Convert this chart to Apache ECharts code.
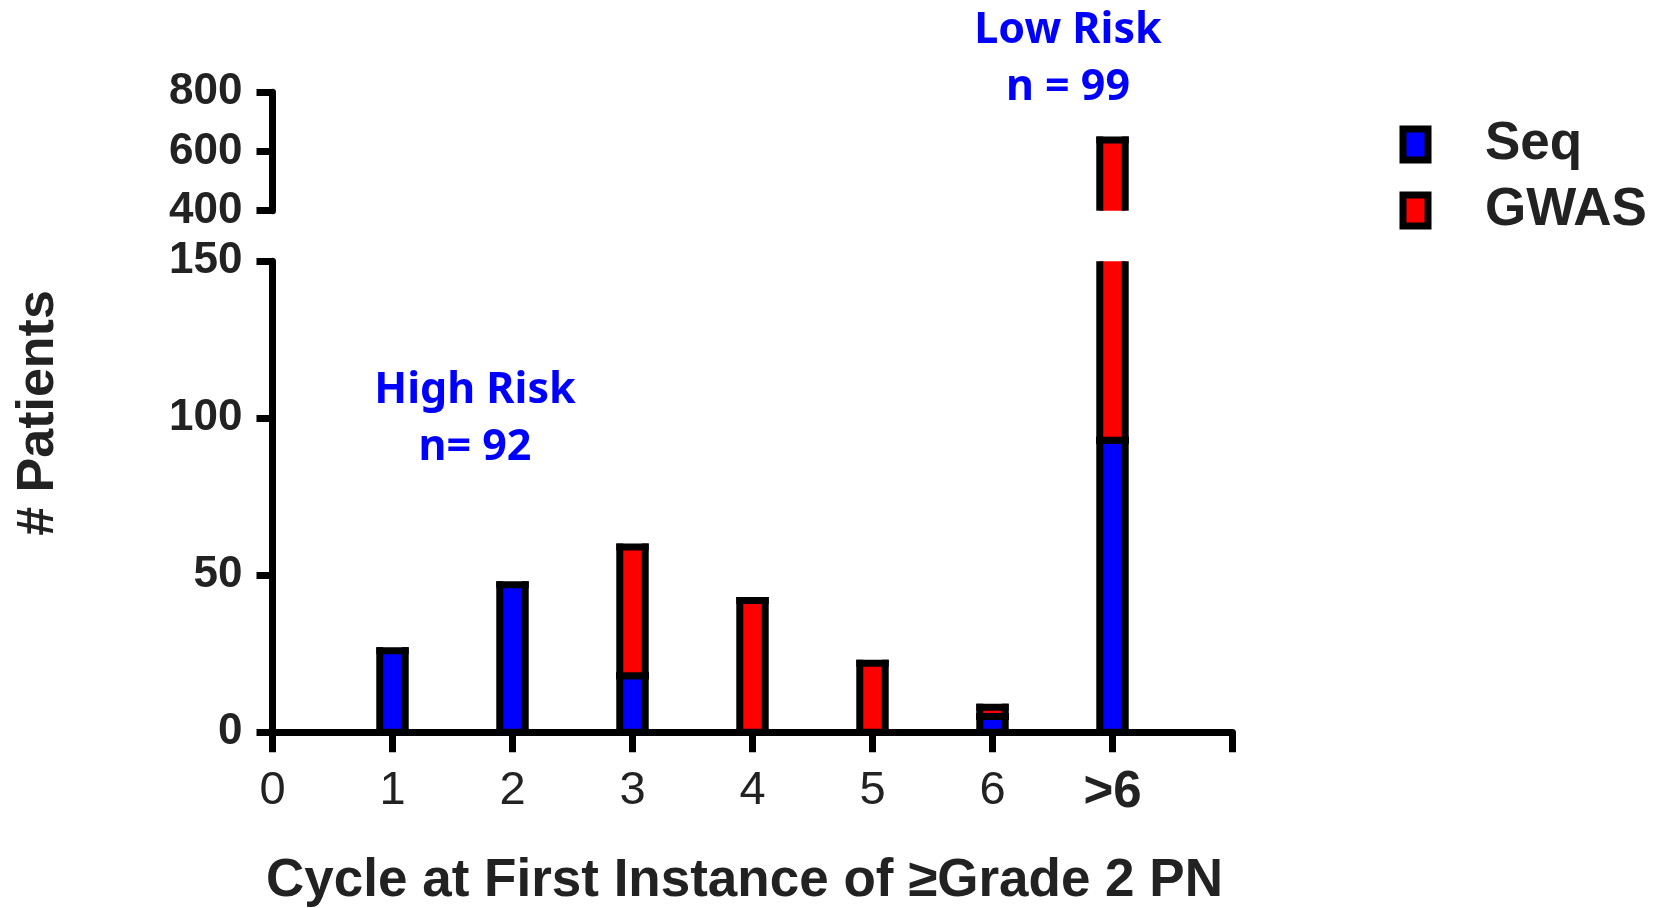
<!DOCTYPE html>
<html>
<head>
<meta charset="utf-8">
<script src="https://cdn.jsdelivr.net/npm/echarts@6.0.0/dist/echarts.min.js"></script>
<style>
  html, body { margin: 0; padding: 0; background: #fff; }
  #chart { width: 1657px; height: 908px; }
</style>
</head>
<body>
<div id="chart"></div>
<script>
// ---- data ----
const tickLabels = ['0', '1', '2', '3', '4', '5', '6', '>6'];
const barPositions = [1, 2, 3, 4, 5, 6, 7];
const seqValues  = [26, 47, 18, 0, 0, 5, 93];
const gwasValues = [0, 0, 41, 42, 22, 3, 546];
const lowerTicks = [0, 50, 100, 150];
const upperTicks = [400, 600, 800];
const seriesNames = ['Seq', 'GWAS'];
const annotations = [
  ['Low Risk', 'n = 99'],
  ['High Risk', 'n= 92']
];

// ---- styles ----
const BLUE = '#0000ff', RED = '#ff0000', INK = '#222';
const SW = 7;
const AX = '"Liberation Sans", Arial, sans-serif';
const ANN_FONT = 'bold 43px "Noto Sans"';

const lowerRange = [lowerTicks[0], lowerTicks[lowerTicks.length - 1]];
const upperRange = [upperTicks[0], upperTicks[upperTicks.length - 1]];

const seqData = barPositions.map((x, i) => [x, 0, seqValues[i]]);
const gwasData = barPositions.map((x, i) => [x, seqValues[i], seqValues[i] + gwasValues[i]]);

function makeRender(range, color) {
  return function (params, api) {
    const x = api.value(0), lo = api.value(1), hi = api.value(2);
    if (!(hi > lo)) return null;
    if (hi <= range[0] || lo >= range[1]) return null;
    const b = Math.max(lo, range[0]), t = Math.min(hi, range[1]);
    const cutTop = hi > range[1], cutBot = lo < range[0];
    const pB = api.coord([x, b]), pT = api.coord([x, t]);
    const w = api.size([1, 0])[0] * 0.212;
    const x0 = pB[0] - w / 2, x1 = pB[0] + w / 2;
    const yT = pT[1], yB = pB[1];
    const ls = { stroke: '#000', lineWidth: SW, lineCap: 'butt' };
    const children = [
      { type: 'rect', shape: { x: x0, y: yT, width: w, height: yB - yT }, style: { fill: color } }
    ];
    const ly0 = cutTop ? yT : yT - SW / 2;
    const ly1 = cutBot ? yB : yB + SW / 2;
    children.push({ type: 'line', shape: { x1: x0, y1: ly0, x2: x0, y2: ly1 }, style: ls });
    children.push({ type: 'line', shape: { x1: x1, y1: ly0, x2: x1, y2: ly1 }, style: ls });
    if (!cutTop) children.push({ type: 'line', shape: { x1: x0 - SW / 2, y1: yT, x2: x1 + SW / 2, y2: yT }, style: ls });
    if (!cutBot) children.push({ type: 'line', shape: { x1: x0 - SW / 2, y1: yB, x2: x1 + SW / 2, y2: yB }, style: ls });
    return { type: 'group', children: children };
  };
}

function makeSeries(name, data, color, gridIdx, range) {
  return {
    name: name, type: 'custom',
    xAxisIndex: gridIdx, yAxisIndex: gridIdx,
    itemStyle: { color: color },
    data: data,
    encode: { x: 0, y: [1, 2] },
    renderItem: makeRender(range, color)
  };
}

const chart = echarts.init(document.getElementById('chart'), null, { renderer: 'canvas' });

const gridLeft = 272.5, gridWidth = 960;

const option = {
  animation: false,
  backgroundColor: '#fff',
  grid: [
    { left: gridLeft, width: gridWidth, top: 92.3, height: 118.4, containLabel: false, outerBoundsMode: 'none' },
    { left: gridLeft, width: gridWidth, top: 261.3, height: 471, containLabel: false, outerBoundsMode: 'none' }
  ],
  xAxis: [
    { gridIndex: 0, type: 'value', min: 0, max: 8, interval: 1, show: false },
    {
      gridIndex: 1, type: 'value', min: 0, max: 8, interval: 1,
      splitLine: { show: false },
      axisLine: { show: true, onZero: false, lineStyle: { color: '#000', width: SW } },
      axisTick: { show: true, length: 20, lineStyle: { color: '#000', width: SW } },
      axisLabel: {
        margin: 35, color: INK, fontFamily: AX, fontSize: 47,
        formatter: function (v) {
          const s = tickLabels[v];
          if (s === undefined) return '';
          return s.indexOf('>') >= 0 ? '{b|' + s + '}' : s;
        },
        rich: { b: { fontFamily: AX, fontSize: 51, fontWeight: 'bold', color: INK } }
      },
      name: 'Cycle at First Instance of \u2265Grade 2 PN',
      nameLocation: 'middle', nameGap: 123,
      nameTextStyle: { fontFamily: AX, fontSize: 53, fontWeight: 'bold', color: INK, padding: [0, 16, 0, 0] }
    }
  ],
  yAxis: [
    {
      gridIndex: 0, type: 'value', min: upperRange[0], max: upperRange[1], interval: 200,
      splitLine: { show: false },
      axisLine: { show: true, lineStyle: { color: '#000', width: SW } },
      axisTick: { show: true, length: 16, lineStyle: { color: '#000', width: SW } },
      axisLabel: { margin: 30, color: INK, fontFamily: AX, fontSize: 44, fontWeight: 'bold' }
    },
    {
      gridIndex: 1, type: 'value', min: lowerRange[0], max: lowerRange[1], interval: 50,
      splitLine: { show: false },
      axisLine: { show: true, onZero: false, lineStyle: { color: '#000', width: SW } },
      axisTick: { show: true, length: 16, lineStyle: { color: '#000', width: SW } },
      axisLabel: { margin: 30, color: INK, fontFamily: AX, fontSize: 44, fontWeight: 'bold' }
    }
  ],
  legend: {
    orient: 'vertical', left: 1399.5, top: 118, padding: 0,
    itemWidth: 25, itemHeight: 31, itemGap: 13, selectedMode: false,
    data: [
      { name: seriesNames[0], icon: 'rect', itemStyle: { color: BLUE, borderColor: '#000', borderWidth: SW } },
      { name: seriesNames[1], icon: 'rect', itemStyle: { color: RED, borderColor: '#000', borderWidth: SW } }
    ],
    textStyle: { fontFamily: AX, fontSize: 53, fontWeight: 'bold', color: INK, padding: [0, 0, 0, 52] }
  },
  graphic: [
    { type: 'text', x: 1068, y: 31, style: { text: annotations[0][0], font: ANN_FONT, fill: BLUE, align: 'center', verticalAlign: 'middle' } },
    { type: 'text', x: 1068, y: 88, style: { text: annotations[0][1], font: ANN_FONT, fill: BLUE, align: 'center', verticalAlign: 'middle' } },
    { type: 'text', x: 475, y: 390.5, style: { text: annotations[1][0], font: ANN_FONT, fill: BLUE, align: 'center', verticalAlign: 'middle' } },
    { type: 'text', x: 475, y: 447.5, style: { text: annotations[1][1], font: ANN_FONT, fill: BLUE, align: 'center', verticalAlign: 'middle' } },
    { type: 'text', x: 39, y: 413, rotation: Math.PI / 2, style: { text: '# Patients', font: 'bold 52px "Liberation Sans"', fill: INK, align: 'center', verticalAlign: 'middle' } }
  ],
  series: [
    makeSeries(seriesNames[0], seqData, BLUE, 1, lowerRange),
    makeSeries(seriesNames[1], gwasData, RED, 1, lowerRange),
    makeSeries(seriesNames[0], seqData, BLUE, 0, upperRange),
    makeSeries(seriesNames[1], gwasData, RED, 0, upperRange)
  ]
};
chart.setOption(option);
</script>
</body>
</html>
